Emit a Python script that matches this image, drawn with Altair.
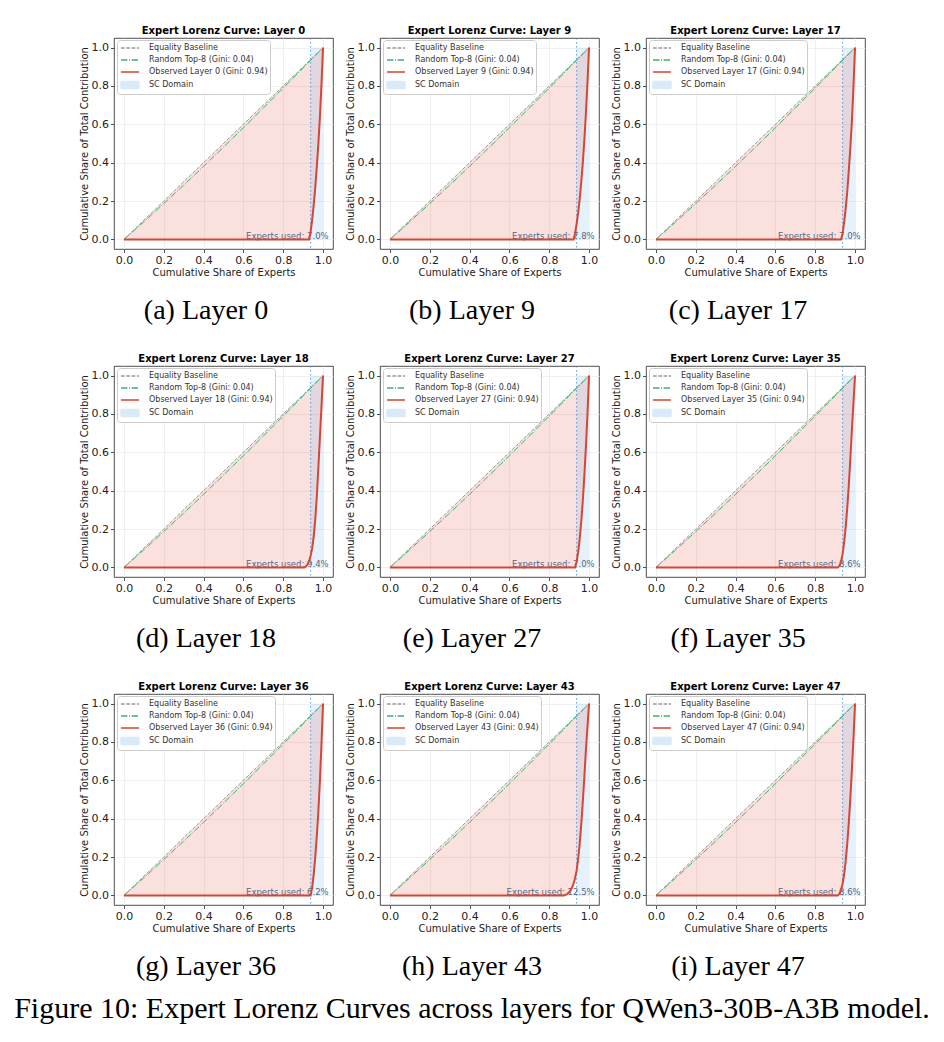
import altair as alt
import pandas as pd

# ---- values -------------------------------------------------------------
LAYERS = [0, 9, 17, 18, 27, 35, 36, 43, 47]
LETTERS = ["a", "b", "c", "d", "e", "f", "g", "h", "i"]
EXPERTS_USED_PCT = [7.0, 7.8, 7.0, 9.4, 7.0, 8.6, 6.2, 12.5, 8.6]
GINI_OBSERVED = [0.94, 0.94, 0.94, 0.94, 0.94, 0.94, 0.94, 0.94, 0.94]
GINI_RANDOM = 0.04
N_EXPERTS = 128
SC_START = 0.9375  # top-8 of 128 experts

# Lorenz curve of random top-8 routing (nearly the equality line)
RANDOM_X = [0.0, 0.1, 0.2, 0.3, 0.4, 0.5, 0.6, 0.7, 0.8, 0.9, 1.0]
RANDOM_Y = [0.0, 0.092, 0.187, 0.283, 0.381, 0.481, 0.582, 0.685, 0.789, 0.894, 1.0]

# cumulative contribution share over the active experts (ascending);
# the first entry is the last idle expert
OBSERVED_CUM = [
    [0, 0.04, 0.10, 0.18, 0.27, 0.38, 0.50, 0.64, 0.81, 1.0],                     # layer 0
    [0, 0.03, 0.08, 0.14, 0.21, 0.30, 0.40, 0.52, 0.66, 0.82, 1.0],               # layer 9
    [0, 0.03, 0.09, 0.16, 0.25, 0.36, 0.48, 0.62, 0.80, 1.0],                     # layer 17
    [0, 0.005, 0.015, 0.03, 0.06, 0.10, 0.16, 0.25, 0.37, 0.52, 0.68, 0.84, 1.0],  # layer 18
    [0, 0.03, 0.08, 0.15, 0.24, 0.35, 0.48, 0.63, 0.80, 1.0],                     # layer 27
    [0, 0.01, 0.03, 0.07, 0.13, 0.21, 0.31, 0.43, 0.57, 0.72, 0.86, 1.0],         # layer 35
    [0, 0.04, 0.11, 0.20, 0.31, 0.44, 0.60, 0.79, 1.0],                           # layer 36
    [0, 0.003, 0.008, 0.015, 0.025, 0.04, 0.06, 0.09, 0.13, 0.19, 0.27, 0.37,
     0.49, 0.62, 0.76, 0.88, 1.0],                                                # layer 43
    [0, 0.01, 0.03, 0.06, 0.11, 0.18, 0.27, 0.38, 0.51, 0.66, 0.82, 1.0],         # layer 47
]

FIG_CAPTION = "Figure 10: Expert Lorenz Curves across layers for QWen3-30B-A3B model."

# ---- style --------------------------------------------------------------
FONT = "DejaVu Sans"
SERIF = "Liberation Serif"
W, H = 219, 211
DOM = [-0.05, 1.05]
TICKS = [0.0, 0.2, 0.4, 0.6, 0.8, 1.0]
GRAY = "#9a9a9a"
GREEN = "#3cb371"
RED = "#d64535"
FILL_RED = "#e74c3c"
SC_BLUE = "#3498db"
SC_PATCH = "#d9eaf8"
LINE_SYMBOL = "M-1.8,0H1.8"
PATCH_SYMBOL = "M-1.8,-0.7H1.8V0.7H-1.8Z"


def panel(i):
    layer = LAYERS[i]
    cum = OBSERVED_CUM[i]
    k = len(cum) - 1
    eq_name = "Equality Baseline"
    rnd_name = f"Random Top-8 (Gini: {GINI_RANDOM:.2f})"
    obs_name = f"Observed Layer {layer} (Gini: {GINI_OBSERVED[i]:.2f})"
    names = [eq_name, rnd_name, obs_name, "SC Domain"]

    obs_x = [0.0] + [(N_EXPERTS - k + j) / N_EXPERTS for j in range(k + 1)]
    obs = pd.DataFrame({"x": obs_x, "y": [0.0] + list(cum), "diag": obs_x,
                        "series": obs_name})
    ref = pd.concat([
        pd.DataFrame({"x": [0.0, 1.0], "y": [0.0, 1.0], "series": eq_name}),
        pd.DataFrame({"x": RANDOM_X, "y": RANDOM_Y, "series": rnd_name}),
    ])
    sc = pd.DataFrame({"x": [SC_START], "x2": [1.0], "y": [0.0], "y2": [1.0]})
    note = pd.DataFrame({"label": [f"Experts used: {EXPERTS_USED_PCT[i]:.1f}%"]})
    key = pd.DataFrame({"x": pd.Series([], dtype=float), "y": pd.Series([], dtype=float),
                        "series": pd.Series([], dtype=str)})

    scale = alt.Scale(domain=DOM, nice=False, zero=False)
    x_enc = alt.X("x:Q", scale=scale,
                  axis=alt.Axis(values=TICKS, format=".1f",
                                title="Cumulative Share of Experts"))
    y_axis = alt.Axis(values=TICKS, format=".1f",
                      title="Cumulative Share of Total Contribution")
    y_enc = alt.Y("y:Q", scale=scale, axis=y_axis)

    legend = alt.Legend(
        title=None, orient="none", legendX=3, legendY=2,
        padding=2, fillColor="rgba(255,255,255,0.85)", strokeColor="#cccccc",
        cornerRadius=3, labelFont=FONT, labelFontSize=8, labelColor="#333333",
        labelLimit=300, symbolSize=100, symbolStrokeWidth=1.5, symbolOffset=5,
        labelOffset=13, rowPadding=2, symbolOpacity=1,
    )
    stroke = alt.Stroke("series:N", legend=legend,
                        scale=alt.Scale(domain=names, range=[GRAY, GREEN, RED, SC_PATCH]))
    dash = alt.StrokeDash("series:N", legend=legend,
                          scale=alt.Scale(domain=names,
                                          range=[[3.7, 1.6], [6.4, 1.6, 1, 1.6], [1, 0], [1, 0]]))
    fill = alt.Fill("series:N", legend=legend,
                    scale=alt.Scale(domain=names,
                                    range=["transparent", "transparent", "transparent", SC_PATCH]))
    shape = alt.Shape("series:N", legend=legend,
                      scale=alt.Scale(domain=names,
                                      range=[LINE_SYMBOL, LINE_SYMBOL, LINE_SYMBOL, PATCH_SYMBOL]))

    # empty layer that only carries the legend key
    key_layer = alt.Chart(key).mark_point(filled=True, opacity=1, strokeWidth=1.5).encode(
        x=x_enc, y=y_enc, stroke=stroke, fill=fill, strokeDash=dash, shape=shape)
    gap = alt.Chart(obs).mark_area(color=FILL_RED, opacity=0.17).encode(
        x=x_enc, y=alt.Y("diag:Q", scale=scale, axis=y_axis), y2="y:Q")
    domain_band = alt.Chart(sc).mark_rect(color=SC_BLUE, opacity=0.12).encode(
        x=x_enc, x2="x2:Q", y=y_enc, y2="y2:Q")
    domain_edge = alt.Chart(sc).mark_rule(
        color="#3f7fc4", strokeDash=[1.5, 2.5], strokeWidth=1, opacity=0.8
    ).encode(x=x_enc)
    ref_lines = alt.Chart(ref).mark_line(strokeWidth=1).encode(
        x=x_enc, y=y_enc, stroke=stroke, strokeDash=dash)
    text = alt.Chart(note).mark_text(
        align="right", baseline="alphabetic", font=FONT, fontSize=8.5, color="#56657e"
    ).encode(x=alt.value(W * 0.98), y=alt.value(H - 10), text="label:N")
    obs_line = alt.Chart(obs).mark_line(strokeWidth=2).encode(
        x=x_enc, y=y_enc, stroke=stroke, strokeDash=dash)

    return alt.layer(key_layer, gap, domain_band, domain_edge, ref_lines, text,
                     obs_line).properties(
        width=W, height=H,
        title=alt.Title(f"Expert Lorenz Curve: Layer {layer}", font=FONT, fontSize=10,
                        fontWeight="bold", color="black", offset=2, frame="group",
                        anchor="middle"),
    )


INDEP = dict(stroke="independent", fill="independent", strokeDash="independent",
             shape="independent")

cells = []
for i in range(len(LAYERS)):
    cell = alt.vconcat(
        panel(i),
        title=alt.Title(f"({LETTERS[i]}) Layer {LAYERS[i]}", orient="bottom", font=SERIF,
                        fontSize=28, fontWeight="normal", color="black", offset=19,
                        anchor="middle"),
    ).resolve_scale(**INDEP).resolve_legend(**INDEP)
    cells.append(cell)

chart = alt.concat(
    *cells, columns=3, spacing={"row": 28, "column": 10},
    title=alt.Title(FIG_CAPTION, orient="bottom", font=SERIF, fontSize=30,
                    fontWeight="normal", color="black", offset=13, anchor="middle"),
).resolve_scale(**INDEP).resolve_legend(**INDEP).properties(
    padding={"left": 14, "top": 25, "right": 5, "bottom": 5}
).configure_view(
    stroke="#222222", strokeWidth=0.8
).configure_axis(
    grid=True, gridColor="#ececec", gridWidth=0.8, domain=False,
    tickColor="#222222", tickSize=3.5, tickWidth=0.8,
    labelFont=FONT, labelFontSize=11, labelColor="#222222", labelPadding=2,
    titleFont=FONT, titleFontSize=10, titleColor="#222222", titleFontWeight="normal",
    titlePadding=2,
)

chart.save("out.html", embed_options={"renderer": "svg", "actions": False})
